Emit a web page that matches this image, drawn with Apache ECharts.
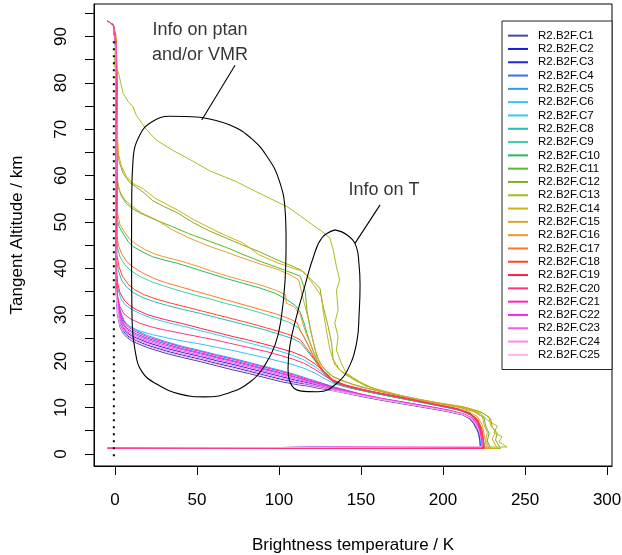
<!DOCTYPE html>
<html lang="en">
<head>
<meta charset="utf-8">
<title>Brightness temperature vs tangent altitude</title>
<script src="https://cdn.jsdelivr.net/npm/echarts@6.0.0/dist/echarts.min.js"></script>
<style>
html, body { margin: 0; background: #fff; }
#chart { width: 622px; height: 555px; }
</style>
</head>
<body>
<div id="chart"></div>
<script>
// legend names and colours
var names = ['R2.B2F.C1','R2.B2F.C2','R2.B2F.C3','R2.B2F.C4','R2.B2F.C5','R2.B2F.C6','R2.B2F.C7',
  'R2.B2F.C8','R2.B2F.C9','R2.B2F.C10','R2.B2F.C11','R2.B2F.C12','R2.B2F.C13','R2.B2F.C14',
  'R2.B2F.C15','R2.B2F.C16','R2.B2F.C17','R2.B2F.C18','R2.B2F.C19','R2.B2F.C20','R2.B2F.C21',
  'R2.B2F.C22','R2.B2F.C23','R2.B2F.C24','R2.B2F.C25'];
var colors = ['#4646a0','#1a1ad8','#2626e0','#3a6cf4','#24a0ff','#36c0ff','#33ccee',
  '#22bbbb','#3ccfaa','#22bb66','#55bb22','#88aa22','#aabb22','#ccb311',
  '#dda033','#ee9922','#ff7722','#ff4422','#ff2244','#ff3388','#ff22bb',
  '#ff22ee','#ff55ee','#ff88ee','#ffb3f5'];

// [brightness temperature K, tangent altitude km]
var c1 = [[-4.7,93.4],[-1,92.5],[0.3,88],[0.8,76],[0.4,62],[0.9,50],[0.5,40],[0.8,34],[1.5,30],[3,27.4],[5,26],[7,25.2],[10,24.4],[13,23.9],[20,22.9],[31,21.7],[41,20.8],[52,19.9],[62,19],[72,18.1],[82,17.3],[92,16.4],[101,15.6],[110,15],[118,14.6],[125,14.1],[135,13.5],[150,12.4],[162,11.6],[177,10.7],[192,9.8],[203,9.1],[212,8.4],[216,7.6],[218.5,6.6],[220.5,5.3],[221.5,4.5],[222.3,3],[222.6,1.6],[222.8,1.2],[-4.5,1.2]];
var c2 = [[-4.7,93.4],[-1,92.5],[0.5,88],[1,76],[0.6,62],[1.1,50],[0.7,40],[1,34],[1.7,30.3],[3.2,27.8],[5,26.5],[7,25.6],[10,24.9],[13,24.4],[20,23.4],[31,22.2],[41,21.3],[52,20.4],[62,19.5],[72,18.7],[82,17.8],[92,16.9],[101,16.1],[110,15.4],[118,14.9],[126,14.3],[134,13.7],[150,12.5],[162,11.7],[177,10.8],[192,9.9],[203,9.2],[212,8.5],[216.5,7.7],[219,6.7],[221,5.4],[222,4.5],[222.8,3],[223.1,1.6],[223.2,1.2],[-4.5,1.2]];
var c3 = [[-4.7,93.4],[-1,92.5],[0.3,88],[0.8,76],[0.4,62],[0.9,50],[0.5,40],[0.8,34.5],[1.7,30.9],[3.4,28.4],[5,27.1],[7,26.2],[10,25.5],[13,25],[20,24],[31,22.8],[41,21.9],[52,21],[62,20.1],[72,19.3],[82,18.4],[92,17.5],[101,16.7],[110,15.9],[118,15.3],[126,14.6],[134,13.9],[150,12.6],[162,11.8],[177,10.9],[192,10],[203,9.3],[212,8.5],[216.5,7.7],[219,6.7],[221,5.4],[222,4.5],[222.8,3],[223.2,1.6],[223.3,1.2],[-4.5,1.2]];
var c4 = [[-4.7,93.4],[-1,92.5],[0.4,88],[0.9,76],[0.5,62],[1,50],[0.6,40],[0.9,35.4],[1.9,31.9],[3.7,29.4],[5.3,28.1],[7,27.2],[10,26.5],[13,25.9],[20,24.9],[31,23.7],[41,22.7],[52,21.8],[62,20.9],[72,20.1],[82,19.2],[92,18.3],[101,17.5],[110,16.6],[118,15.8],[126,15],[134,14.2],[150,12.8],[162,11.9],[177,11],[192,10.1],[203,9.3],[212,8.6],[216.8,7.7],[219.3,6.7],[221.2,5.4],[222.2,4.5],[223,3],[223.4,1.6],[223.5,1.2],[-4.5,1.2]];
var c5 = [[-4.7,93.4],[-1,92.5],[0.3,88],[0.8,76],[0.4,62],[0.9,50],[0.5,40],[0.8,36.1],[2,32.6],[3.9,30.1],[5.6,28.8],[7.4,27.9],[10,27.2],[13,26.6],[20,25.5],[31,24.2],[41,23.2],[52,22.3],[62,21.4],[72,20.6],[82,19.7],[92,18.8],[101,18],[110,17.1],[118,16.2],[126,15.3],[134,14.4],[150,12.9],[162,12],[177,11.1],[192,10.2],[203,9.4],[212,8.7],[217,7.8],[219.5,6.8],[221.4,5.5],[222.4,4.5],[223.2,3],[223.6,1.6],[223.7,1.2],[-4.5,1.2]];
var c6 = [[-4.7,93.4],[-1,92.5],[0.2,88],[0.7,76],[0.3,63],[0.8,51],[0.4,42],[0.6,36],[1.3,32.5],[3,30.2],[5.5,28.6],[9,27.5],[15,26.5],[23,25.7],[32,25],[42,24.3],[52,23.7],[62,23],[72,22.3],[82,21.5],[92,20.7],[100,20],[108,19.3],[115,18.5],[122,17.4],[128,16.2],[134,15.1],[142,14.3],[158,13.1],[178,11.8],[197,10.4],[210,9.4],[217,8.3],[221,6.8],[222.5,4.9],[223,3],[223.5,1.2],[-4.5,1.2]];
var c7 = [[-4.7,93.4],[-1,92.5],[0.3,88],[0.8,77],[0.4,65],[0.9,54],[0.5,45],[0.7,39],[1.5,36],[3.5,33.5],[6,32.2],[10,31.2],[15,30.3],[22,29.3],[32,28.3],[42,27.5],[52,26.6],[62,25.7],[72,24.8],[82,23.9],[92,23],[100,22.2],[108,21.3],[115,20.3],[122,18.8],[128,17.1],[133,15.7],[140,14.7],[155,13.5],[175,12.1],[195,10.6],[209,9.6],[217,8.5],[221,7],[223,5],[223.5,3],[224,1.2],[-4.5,1.2]];
var c8 = [[-4.7,93.4],[-1,92.5],[0.4,88],[0.9,78],[0.5,67],[1,57],[0.6,48],[0.8,42],[2,39.5],[4,37.5],[7,36],[11,34.8],[17,33.7],[24,32.8],[32,32],[42,31.1],[52,30.3],[62,29.4],[72,28.5],[82,27.6],[92,26.7],[100,25.8],[108,24.9],[113,24],[117,22.3],[121,20.5],[125,18.6],[129,16.8],[133,15.5],[140,14.6],[155,13.4],[175,12],[195,10.6],[209,9.6],[217,8.6],[221,7.2],[223,5.3],[224,3.3],[224,1.2],[-4.5,1.2]];
var c9 = [[-4.7,93.4],[-1,92.5],[0.5,88],[1,79],[0.6,69],[1.1,60],[0.7,52],[0.5,47],[1.5,44.5],[3,42.5],[6,40.8],[9,39.7],[15,38.3],[23,37],[30,36.2],[38,35.3],[48,34.3],[58,33.4],[68,32.4],[78,31.5],[88,30.5],[98,29.4],[106,28.4],[112,27.2],[115,25.3],[118,23.2],[121,21],[124,19],[127,17.5],[131,16.1],[136,15],[150,13.7],[170,12.3],[190,10.9],[206,9.8],[216,8.8],[221,7.4],[223,5.5],[224,3.5],[224.5,1.2],[-4.5,1.2]];
var c10 = [[-4.7,93.4],[-1,92.5],[0.4,88],[1,80],[0.6,70],[1.2,62],[0.8,56],[1,51],[2.5,49],[5,47.5],[8,45.8],[11,44.7],[17,43.5],[23,42.5],[30,41.8],[38,41.1],[48,40],[58,38.9],[68,37.8],[78,36.8],[88,35.8],[98,34.6],[105,33.2],[110,32],[113,30.5],[115,28.5],[117,26],[119,23.9],[121,22],[123,20.3],[126,18.2],[129,16.7],[134,15.3],[145,14.1],[165,12.6],[185,11.2],[202,10.1],[214,9.1],[220,7.8],[223,6],[224,4],[225,2.4],[225.5,1.2],[-4.5,1.2]];
var c11 = [[-4.7,93.4],[-1,92.5],[0.5,89],[1,82],[0.6,74],[1.3,66],[1,60],[2,57.5],[4,55.5],[7,54],[11,52.8],[15,52],[25,50.4],[35,49],[45,47.5],[58,45.8],[68,44.5],[78,43],[88,41.6],[99,40.2],[108,39],[113,38.3],[116,35],[117,31],[119,27],[121,24],[123,21],[127,18.5],[133,16.6],[145,15],[160,13.6],[178,12.3],[196,11],[210,10.1],[220,9],[225,7.8],[226,6],[228,4.5],[227,2.8],[229,1.2],[-4.5,1.2]];
var c12 = [[-4.7,93.4],[-1,92.5],[0.6,90],[1,84],[1.4,76],[0.8,70],[1.5,66],[2.5,63],[5,60.5],[9,58.5],[17,56.5],[23,54.6],[30,53.3],[38,52],[48,49.8],[58,48],[68,46.5],[78,45],[88,43.6],[99,41.8],[108,40.5],[113,39.7],[119,37.8],[125,35.7],[126,33.2],[128,30.3],[130,27.4],[132,24],[133,20.3],[137,18.1],[143,16.7],[152,14.8],[165,13.2],[182,11.9],[200,10.8],[214,10],[224,8.9],[229,7.6],[230,5.8],[233,4.5],[232,3],[235,1.2],[-4.5,1.2]];
var c13 = [[-4.7,93.4],[-1,92.5],[0.5,90.5],[0,86],[-0.5,83.5],[2,82.4],[3.5,80],[5,77.7],[8,76],[11,74.8],[13,73],[19,70],[25,67.7],[35,65.5],[46,63.4],[58,61],[74,58.7],[84,56.9],[95,55],[105,53.3],[113,51.3],[120,49.5],[126,48],[131,46.6],[133,44],[135,40.4],[137,37.5],[135,35.3],[136,31],[134,28.2],[136,25.3],[135,22.4],[138,19.5],[141,17.4],[149,15.6],[157,14.2],[166,13.4],[182,11.8],[200,10.7],[215,9.8],[223,8.7],[227,7.3],[233,6],[231,4.6],[236,3.7],[234,2.6],[239,1.5],[239,1.2],[-4.5,1.2]];
var c14 = [[-4.7,93.4],[-1,92.5],[0.4,89],[1.2,82],[0.7,74],[1.6,68],[2.2,64.5],[4,62],[7,59.8],[11,58.3],[17,57.2],[25,55],[38,52.6],[48,50.5],[58,48.7],[68,47],[78,45.5],[88,42.9],[99,41.2],[108,40.1],[115,39.3],[121,36.5],[126,33.9],[127,30.5],[129,26.5],[131,22.5],[134,19.2],[140,17.2],[148,15.5],[162,13.6],[180,12.1],[198,11],[212,10.2],[222,9.2],[228,8],[229,6.2],[232,4.8],[230,3.2],[233,1.2],[-4.5,1.2]];
var c15 = [[-4.7,93.4],[-1,92.5],[0.3,88],[0.9,80],[1.4,72],[0.8,64],[1.5,59],[3,56.5],[6,54.8],[10,53.5],[16,52],[25,50.5],[35,48.3],[45,46.6],[58,44.7],[68,43.5],[78,42.2],[88,41],[99,39.8],[107,38.6],[112,37.5],[115,33],[118,29],[120,25.5],[122,22.5],[125,19.5],[130,17.3],[138,15.8],[150,14.4],[170,12.9],[190,11.4],[206,10.4],[218,9.3],[224,8],[225,6.3],[227,4.6],[226,3],[228,1.2],[-4.5,1.2]];
var c16 = [[-4.7,93.4],[-1,92.5],[0.7,89],[1.3,81],[0.9,71],[1.5,63],[1.1,57],[1.5,52],[3,49.5],[5.5,48],[9,46.3],[13,45.2],[18,44.1],[25,43],[33,42.2],[40,41.6],[50,40.5],[58,39.5],[68,38.4],[78,37.4],[88,36.5],[98,35.3],[104,34.3],[104.5,32.5],[109,31.8],[113,30],[115,27.5],[117,25.5],[120,23],[122,21],[125,19],[128,17.3],[133,15.8],[145,14.3],[165,12.8],[185,11.4],[203,10.3],[215,9.3],[221,8],[224,6.2],[225,4.2],[226,2.5],[226.5,1.2],[-4.5,1.2]];
var c17 = [[-4.7,93.4],[-1,92.5],[0.8,89],[1.3,80],[0.9,70],[1.4,61],[1,53],[0.8,48],[2,45],[4,43.2],[7,41.5],[11,40.3],[17,39],[24,37.8],[31,36.9],[40,36],[50,35],[58,34.2],[68,33.2],[78,32.2],[88,31.2],[98,30.2],[106,29.2],[111,28.3],[113,26.5],[116,24.8],[119,22.6],[122,20.4],[125,18.6],[128,17.2],[132,15.9],[138,14.9],[150,13.8],[170,12.4],[190,11],[206,9.9],[216,8.9],[221,7.5],[223.5,5.6],[224.5,3.5],[225,1.2],[-4.5,1.2]];
var c18 = [[-4.7,93.4],[-1,92.5],[0.6,89],[1.2,79],[0.8,68],[1.3,58],[0.9,49],[1.1,43],[2.5,40.3],[4.5,38.3],[8,36.6],[12,35.4],[18,34.3],[25,33.4],[33,32.6],[42,31.8],[52,30.9],[62,30],[72,29.1],[82,28.2],[92,27.2],[100,26.4],[108,25.5],[113,24.6],[116,23.2],[120,21.2],[124,19.3],[128,17.5],[132,16],[138,14.9],[152,13.7],[172,12.3],[192,10.9],[207,9.8],[216,8.8],[221,7.4],[223.5,5.4],[224.5,3.4],[225,1.2],[-4.5,1.2]];
var c19 = [[-4.7,93.4],[-1,92.5],[0.5,88],[1,78],[0.6,66],[1.1,55],[0.7,46],[0.9,40],[1.5,37],[3,34.8],[5.5,33.2],[9,32],[13,31.1],[20,30],[30,29],[40,28.2],[52,27.1],[62,26.2],[72,25.3],[82,24.5],[92,23.6],[100,22.8],[108,22],[115,21],[122,19.4],[128,17.6],[133,16],[140,14.9],[155,13.6],[175,12.2],[195,10.7],[209,9.7],[217,8.6],[221,7.1],[223,5.2],[224,3.2],[224.5,1.2],[-4.5,1.2]];
var c20 = [[-4.7,93.4],[-1,92.5],[0.6,88],[1,77],[0.5,64],[1,52],[0.6,43],[0.8,37],[1.5,34],[3,31.8],[5.5,30.2],[9,29.2],[15,28.2],[23,27.3],[32,26.6],[42,25.9],[52,25.2],[62,24.5],[72,23.7],[82,22.9],[92,22.1],[100,21.3],[108,20.5],[115,19.6],[122,18.2],[128,16.8],[134,15.5],[142,14.6],[158,13.3],[178,11.9],[197,10.5],[210,9.5],[217,8.4],[221,6.9],[222.5,5],[223.5,3],[224,1.2],[-4.5,1.2]];
var c21 = [[-4.7,93.4],[-1,92.5],[0.6,88],[1.1,76],[0.7,62],[1.2,50],[0.8,40],[1.1,35.8],[2.1,32.3],[3.8,29.8],[5.5,28.5],[7.3,27.6],[10,26.9],[13,26.3],[20,25.2],[31,24],[41,23],[52,22.1],[62,21.2],[72,20.4],[82,19.5],[92,18.6],[101,17.8],[110,16.9],[118,16],[126,15.2],[134,14.3],[150,12.9],[162,12],[177,11.1],[192,10.2],[203,9.5],[212,8.7],[217.2,7.9],[220,6.9],[222,5.6],[223.3,4.5],[224.3,3],[225,1.6],[225.1,1.2],[-4.5,1.2]];
var c22 = [[-4.7,93.4],[-1,92.5],[0.7,88],[1.2,76],[0.8,62],[1.3,50],[0.9,40],[1.2,35.1],[2,31.6],[3.6,29.1],[5.2,27.8],[7,26.9],[10,26.2],[13,25.6],[20,24.6],[31,23.4],[41,22.5],[52,21.6],[62,20.7],[72,19.9],[82,19],[92,18.1],[101,17.3],[110,16.5],[118,15.7],[126,15],[134,14.1],[150,12.8],[162,11.9],[177,11],[192,10.1],[203,9.4],[212,8.6],[217,7.8],[219.8,6.8],[221.8,5.5],[223,4.5],[224,3],[224.6,1.6],[224.7,1.2],[-4.5,1.2]];
var c23 = [[-4.7,93.4],[-1,92.5],[0.5,88],[1,76],[0.6,62],[1.1,50],[0.7,40],[1,34.8],[1.9,31.2],[3.5,28.7],[5,27.4],[7,26.5],[10,25.8],[13,25.3],[20,24.3],[31,23.1],[41,22.2],[52,21.3],[62,20.4],[72,19.6],[82,18.7],[92,17.8],[101,17],[110,16.2],[118,15.5],[126,14.8],[134,14],[150,12.7],[162,11.9],[177,10.9],[192,10],[203,9.3],[212,8.6],[217,7.8],[219.7,6.8],[221.7,5.5],[222.8,4.5],[223.8,3],[224.3,1.6],[224.4,1.2],[-4.5,1.2]];
var c24 = [[-4.7,93.4],[-1,92.5],[0.6,88],[1.1,76],[0.7,62],[1.2,50],[0.8,40],[1.1,34.3],[1.8,30.6],[3.3,28.1],[5,26.8],[7,25.9],[10,25.2],[13,24.7],[20,23.7],[31,22.5],[41,21.6],[52,20.7],[62,19.8],[72,19],[82,18.1],[92,17.2],[101,16.4],[110,15.7],[118,15.1],[126,14.5],[134,13.8],[150,12.6],[162,11.8],[177,10.9],[192,10],[203,9.3],[212,8.6],[217,7.8],[219.5,6.8],[221.5,5.5],[222.6,4.5],[223.6,3],[224,1.6],[224.1,1.2],[-4.5,1.2]];
var c25 = [[-4.7,93.4],[-1,92.5],[0.4,88],[0.9,76],[0.5,62],[1,50],[0.6,40],[0.9,34],[1.6,30.1],[3.1,27.6],[5,26.3],[7,25.4],[10,24.7],[13,24.2],[20,23.2],[31,22],[41,21.1],[52,20.2],[62,19.3],[72,18.5],[82,17.6],[92,16.7],[101,15.9],[110,15.2],[118,14.8],[126,14.2],[134,13.6],[150,12.5],[162,11.7],[177,10.8],[192,9.9],[203,9.2],[212,8.5],[216.5,7.7],[219.2,6.7],[221.3,5.4],[222.4,4.5],[223.3,3],[223.7,1.6],[223.8,1.2],[-4.5,1.2]];
var curves = [c1,c2,c3,c4,c5,c6,c7,c8,c9,c10,c11,c12,c13,c14,c15,c16,c17,c18,c19,c20,c21,c22,c23,c24,c25];

// hand-drawn annotations, in data units
var ptanLoop = [[51.8,72.6],[70.1,70.9],[84.1,67.7],[93.3,63.8],[100,59.1],[103.7,52.6],[104.3,46.1],[103.7,37.5],[101.2,28.9],[97.6,23.5],[91.5,19.2],[82.3,15.5],[68.9,13.1],[54.9,12.3],[39.6,12.9],[26.2,14.9],[16.5,17.7],[12.2,22.4],[10.4,28.9],[10.1,44],[10.2,54.7],[11,63.4],[15.2,68.8],[22.6,71.6],[33.5,72.8],[51.8,72.6]];
var ptanPointer = [[73.2,83.8],[52.9,72]];
var tLoop = [[134.1,48.3],[141.5,47.2],[147,44.8],[148.8,40.7],[149.4,36.4],[148.8,30],[147.6,24.6],[143.3,19.2],[135.4,15.3],[123.8,13.4],[112.8,13.6],[106.7,15.5],[105.5,18.5],[106.7,23.5],[110.4,29.3],[115.9,36.4],[120.7,42.2],[126.2,46.6],[134.1,48.3]];
var tPointer = [[146.3,45.4],[161.6,53.7]];
var zeroLine = [[-0.7,-0.5],[-0.7,89]];
var notes = [
  { text: 'Info on ptan\nand/or VMR', at: [51.8, 88.7] },
  { text: 'Info on T', at: [164, 56.9] }
];

var xTicks = [0, 50, 100, 150, 200, 250, 300];
var yTicks = [0,5,10,15,20,25,30,35,40,45,50,55,60,65,70,75,80,85,90,95];
var yLabels = [0,10,20,30,40,50,60,70,80,90];

var font = '"Liberation Sans", Arial, sans-serif';
var chart = echarts.init(document.getElementById('chart'), null, { renderer: 'canvas' });

var series = curves.map(function (d, i) {
  return {
    name: names[i],
    type: 'line',
    data: d,
    symbol: 'none',
    color: colors[i],
    lineStyle: { width: 1, color: colors[i] },
    silent: true,
    // C20 sits on top, so the shared base line reads hot pink
    z: i === 19 ? 3 : 2
  };
});
function blackLine(d, smooth, extra) {
  return Object.assign({
    type: 'line', data: d, symbol: 'none', smooth: smooth, silent: true,
    lineStyle: { width: 1.1, color: '#000' }, z: 4
  }, extra || {});
}
series.push(blackLine(ptanLoop, 0.45));
series.push(blackLine(ptanPointer, false));
series.push(blackLine(tLoop, 0.45));
series.push(blackLine(tPointer, false));
series.push(blackLine(zeroLine, false, { lineStyle: { width: 2, color: '#000', type: [2, 5] }, z: 5 }));
series.push({
  type: 'scatter',
  symbolSize: 0,
  silent: true,
  data: notes.map(function (n) { return { value: n.at, name: n.text }; }),
  label: {
    show: true, position: 'inside', formatter: '{b}',
    fontFamily: font, fontSize: 18, lineHeight: 25, color: '#000', align: 'center'
  },
  z: 6
});

chart.setOption({
  animation: false,
  backgroundColor: '#fff',
  grid: {
    left: 94, right: 10, top: 4, bottom: 89,
    outerBoundsMode: 'none', containLabel: false,
    show: true, borderColor: '#000', borderWidth: 1, backgroundColor: 'transparent'
  },
  legend: {
    data: names,
    orient: 'vertical',
    left: 502, top: 21,
    padding: [8, 12, 8, 6],
    icon: 'rect',
    itemWidth: 20, itemHeight: 2, itemGap: 0,
    borderColor: '#222', borderWidth: 1,
    backgroundColor: '#fff',
    textStyle: { fontFamily: font, fontSize: 11.5, lineHeight: 13.3, color: '#000', padding: [0, 0, 0, 5] },
    selectedMode: false
  },
  xAxis: {
    type: 'value', min: -12.8, max: 303,
    name: 'Brightness temperature / K', nameLocation: 'middle', nameGap: 71,
    nameTextStyle: { fontFamily: font, fontSize: 17, color: '#000' },
    axisLine: { show: true, onZero: false, lineStyle: { color: '#000' } },
    axisTick: { show: true, length: 9, customValues: xTicks, lineStyle: { color: '#000' } },
    axisLabel: { customValues: xTicks, margin: 26, fontFamily: font, fontSize: 17, color: '#000' },
    splitLine: { show: false }
  },
  yAxis: {
    type: 'value', min: -2.6, max: 97,
    name: 'Tangent Altitude / km', nameLocation: 'middle', nameGap: 68, nameRotate: 90,
    nameTextStyle: { fontFamily: font, fontSize: 17, color: '#000' },
    axisLine: { show: true, onZero: false, lineStyle: { color: '#000' } },
    axisTick: { show: true, length: 9, customValues: yTicks, lineStyle: { color: '#000' } },
    axisLabel: { customValues: yLabels, rotate: 90, margin: 24, fontFamily: font, fontSize: 17, color: '#000' },
    splitLine: { show: false }
  },
  series: series
});
</script>
</body>
</html>
